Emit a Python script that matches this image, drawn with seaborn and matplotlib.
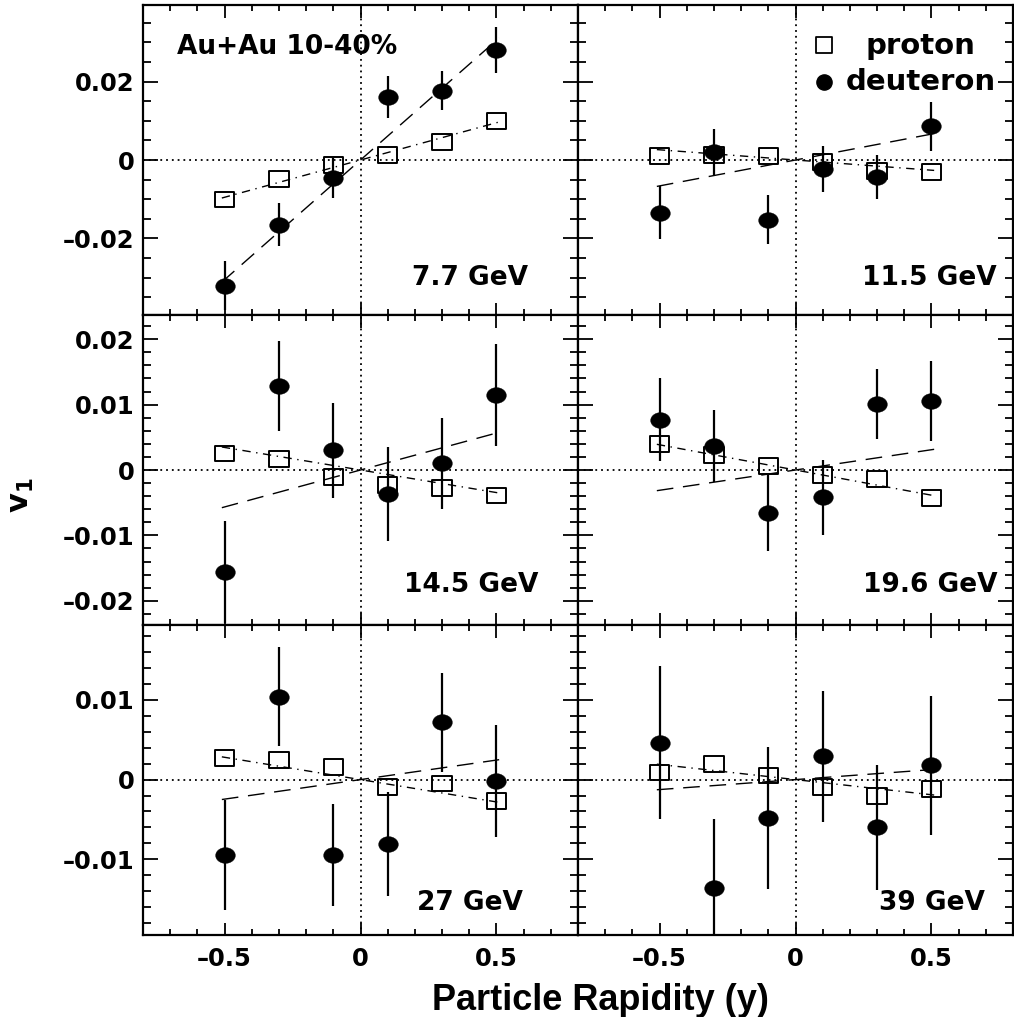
import numpy as np
import matplotlib
matplotlib.use("Agg")
import matplotlib.pyplot as plt
import seaborn as sns
import pandas as pd
from matplotlib.path import Path
from matplotlib.ticker import MultipleLocator

# ---------------- data ----------------
rapidity = [-0.5, -0.3, -0.1, 0.1, 0.3, 0.5]
energies = ["7.7 GeV", "11.5 GeV", "14.5 GeV", "19.6 GeV", "27 GeV", "39 GeV"]

proton_v1 = [
    [-0.0101, -0.0048, -0.0013, 0.0013, 0.0046, 0.0099],
    [0.0010, 0.0013, 0.0010, -0.0005, -0.0028, -0.0030],
    [0.0025, 0.0017, -0.0011, -0.0023, -0.0027, -0.0039],
    [0.0040, 0.0023, 0.0006, -0.0008, -0.0014, -0.0043],
    [0.0027, 0.0025, 0.0016, -0.0009, -0.0005, -0.0027],
    [0.0009, 0.0020, 0.0005, -0.0009, -0.0021, -0.0012],
]
deuteron_v1 = [
    [-0.0320, -0.0165, -0.0046, 0.0160, 0.0177, 0.0280],
    [-0.0134, 0.0020, -0.0152, -0.0023, -0.0043, 0.0086],
    [-0.0156, 0.0128, 0.0030, -0.0037, 0.0010, 0.0115],
    [0.0077, 0.0036, -0.0066, -0.0042, 0.0101, 0.0105],
    [-0.0095, 0.0104, -0.0094, -0.0081, 0.0072, -0.0002],
    [0.0046, -0.0136, -0.0048, 0.0029, -0.0060, 0.0018],
]
deuteron_err = [
    [0.0063, 0.0055, 0.0050, 0.0053, 0.0050, 0.0058],
    [0.0068, 0.0060, 0.0062, 0.0058, 0.0056, 0.0062],
    [0.0078, 0.0069, 0.0073, 0.0072, 0.0069, 0.0078],
    [0.0063, 0.0055, 0.0058, 0.0057, 0.0054, 0.0061],
    [0.0069, 0.0062, 0.0064, 0.0065, 0.0062, 0.0070],
    [0.0096, 0.0086, 0.0089, 0.0082, 0.0078, 0.0087],
]
# linear fit slopes dv1/dy
proton_slope = [0.0190, -0.0052, -0.0069, -0.0077, -0.0056, -0.0038]
deuteron_slope = [0.0610, 0.0132, 0.0113, 0.0062, 0.0049, 0.0025]
fit_range = [-0.51, 0.51]

row_ylim = [(-0.0395, 0.0395), (-0.0237, 0.0237), (-0.0195, 0.0194)]
row_yticks = [[-0.02, 0.0, 0.02], [-0.02, -0.01, 0.0, 0.01, 0.02], [-0.01, 0.0, 0.01]]
row_yticklabels = [["\u20130.02", "0", "0.02"],
                   ["\u20130.02", "\u20130.01", "0", "0.01", "0.02"],
                   ["\u20130.01", "0", "0.01"]]
row_yminor = [0.005, 0.002, 0.002]
xticks = [-0.5, 0.0, 0.5]
xticklabels = ["\u20130.5", "0", "0.5"]

# ---------------- style / layout ----------------
label_pos = [(0.886, 0.12), (0.963, 0.12), (0.908, 0.129),
             (0.965, 0.129), (0.874, 0.104), (0.935, 0.104)]

sns.set_theme(style="ticks")
plt.rcParams["font.family"] = ["DejaVu Sans"]
plt.rcParams["font.weight"] = "bold"
plt.rcParams["mathtext.fontset"] = "dejavusans"
for key in ["text.color", "axes.labelcolor", "xtick.color", "ytick.color",
            "axes.edgecolor", "xtick.labelcolor", "ytick.labelcolor"]:
    plt.rcParams[key] = "black"

th = np.linspace(0, 2 * np.pi, 60)
ellipse = Path(np.column_stack([np.cos(th), 0.8 * np.sin(th)]), closed=True)
rect = Path([(-1, -0.82), (1, -0.82), (1, 0.82), (-1, 0.82), (-1, -0.82)],
            [Path.MOVETO, Path.LINETO, Path.LINETO, Path.LINETO, Path.CLOSEPOLY])

fig = plt.figure(figsize=(10.14, 10.17), dpi=100)
gs = fig.add_gridspec(3, 2, left=143 / 1014, right=1013 / 1014,
                      top=1 - 5 / 1017, bottom=1 - 935 / 1017,
                      hspace=0, wspace=0)

for i in range(6):
    r, c = divmod(i, 2)
    ax = fig.add_subplot(gs[r, c])
    ax.set_xlim(-0.8, 0.8)
    ax.set_ylim(*row_ylim[r])

    ax.axhline(0, color="black", lw=1.3, ls=(0, (1, 2.2)), zorder=1)
    ax.axvline(0, color="black", lw=1.3, ls=(0, (1, 2.2)), zorder=1)

    xf = np.array(fit_range)
    ax.plot(xf, deuteron_slope[i] * xf, color="black", lw=1.0,
            ls=(0, (12, 7)), zorder=2)
    ax.plot(xf, proton_slope[i] * xf, color="black", lw=1.0,
            ls=(0, (6, 4, 1, 4)), zorder=2)

    ax.errorbar(rapidity, deuteron_v1[i], yerr=deuteron_err[i], fmt="none",
                ecolor="black", elinewidth=1.6, capsize=0, zorder=3)

    dfp = pd.DataFrame({"y": rapidity, "v1": proton_v1[i]})
    dfd = pd.DataFrame({"y": rapidity, "v1": deuteron_v1[i]})
    sns.scatterplot(data=dfp, x="y", y="v1", ax=ax, marker=rect, s=190,
                    facecolor="none", edgecolor="black", linewidth=1.4, zorder=4)
    sns.scatterplot(data=dfd, x="y", y="v1", ax=ax, marker=ellipse, s=200,
                    color="black", edgecolor="black", linewidth=0.3, zorder=5)
    ax.set_xlabel("")
    ax.set_ylabel("")

    ax.set_xticks(xticks)
    ax.xaxis.set_minor_locator(MultipleLocator(0.1))
    ax.set_yticks(row_yticks[r])
    ax.yaxis.set_minor_locator(MultipleLocator(row_yminor[r]))
    if c == 0:
        ax.set_yticklabels(row_yticklabels[r])
    if r == 2:
        ax.set_xticklabels(xticklabels)

    ax.tick_params(which="both", direction="in", top=True, right=True,
                   color="black", labelcolor="black", width=1.3)
    ax.tick_params(axis="y", which="major", length=11, pad=6,
                   labelsize=17.5, labelleft=(c == 0))
    ax.tick_params(axis="y", which="minor", length=6)
    ax.tick_params(axis="x", which="major", length=9, pad=9,
                   labelsize=17.5, labelbottom=(r == 2))
    ax.tick_params(axis="x", which="minor", length=4.5)
    for sp in ax.spines.values():
        sp.set_linewidth(1.6)
        sp.set_color("black")
    for lab in ax.get_xticklabels() + ax.get_yticklabels():
        lab.set_fontweight("bold")

    lx, ly = label_pos[i]
    ax.text(lx, ly, energies[i], transform=ax.transAxes, ha="right",
            va="center", fontsize=19, fontweight="bold", color="black")

    if i == 0:
        ax.text(0.078, 0.865, "Au+Au 10-40%", transform=ax.transAxes,
                ha="left", va="center", fontsize=19, fontweight="bold",
                color="black")
    if i == 1:
        ax.scatter([0.566], [0.872], transform=ax.transAxes, marker="s", s=130,
                   facecolor="none", edgecolor="black", linewidth=1.3, clip_on=False)
        ax.scatter([0.566], [0.752], transform=ax.transAxes, marker="o", s=120,
                   color="black", clip_on=False)
        ax.text(0.787, 0.867, "proton", transform=ax.transAxes, ha="center",
                va="center", fontsize=21, fontweight="bold", color="black")
        ax.text(0.787, 0.752, "deuteron", transform=ax.transAxes, ha="center",
                va="center", fontsize=21, fontweight="bold", color="black")

fig.text(600 / 1014, 1 - 1000 / 1017, "Particle Rapidity (y)", ha="center",
         va="center", fontsize=26, fontweight="bold", family="Liberation Sans",
         color="black")
fig.text(22 / 1014, 1 - 495 / 1017, r"$\mathbf{v_1}$", ha="center", va="center",
         rotation=90, fontsize=22, color="black")

fig.savefig("out.png", dpi=100)
